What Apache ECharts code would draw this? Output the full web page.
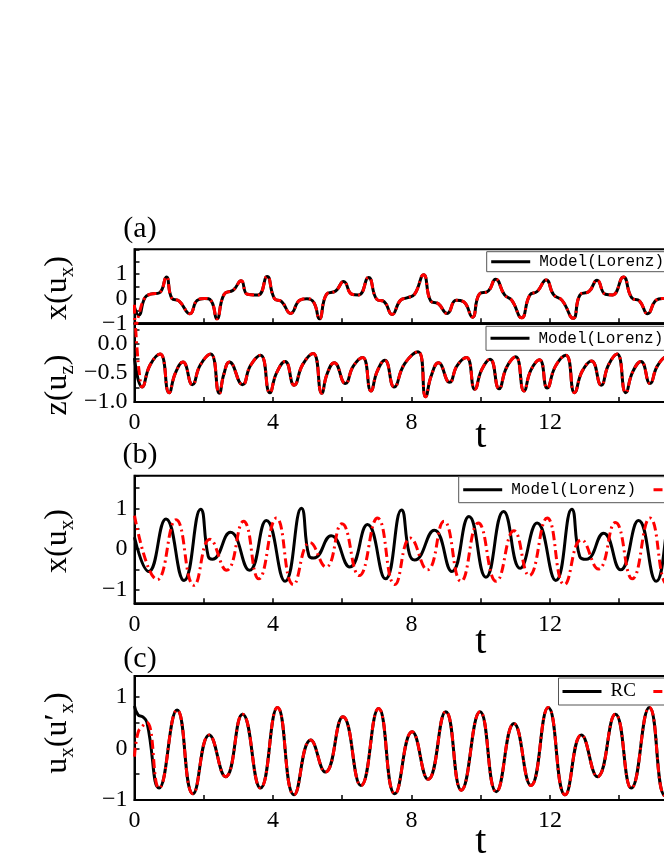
<!DOCTYPE html>
<html>
<head>
<meta charset="utf-8">
<script src="https://cdn.jsdelivr.net/npm/echarts@6/dist/echarts.min.js"></script>
<style>
  html, body { margin: 0; padding: 0; background: #fff; }
  #chart { width: 664px; height: 860px; }
</style>
</head>
<body>
<div id="chart"></div>
<script>
// all series are [t, value] pairs

// (a) upper panel: x(u_x)
const modelXA = [[0, -0.35], [0.12, -0.67], [0.30, 0.04], [0.46, 0.18], [0.72, 0.24], [0.92, 0.88], [1.08, 0.01], [1.29, -0.10], [1.60, -0.61], [1.81, -0.07], [2.02, 0.01], [2.22, -0.10], [2.38, -0.82], [2.59, 0.18], [2.85, 0.34], [3.08, 0.72], [3.26, 0.18], [3.57, 0.15], [3.83, 0.90], [4.04, 0.01], [4.25, -0.12], [4.51, -0.60], [4.77, -0.07], [4.98, 0.00], [5.18, -0.16], [5.34, -0.82], [5.55, 0.18], [5.81, 0.31], [6.04, 0.69], [6.28, 0.18], [6.48, 0.15], [6.76, 0.86], [7.00, -0.03], [7.21, -0.12], [7.44, -0.64], [7.68, -0.07], [7.89, 0.04], [8.09, 0.18], [8.35, 0.97], [8.56, -0.10], [8.77, -0.20], [9.03, -0.60], [9.29, -0.07], [9.50, -0.12], [9.76, -0.75], [9.96, 0.18], [10.22, 0.31], [10.43, 0.79], [10.69, 0.15], [10.90, -0.07], [11.18, -0.78], [11.42, 0.15], [11.63, 0.29], [11.89, 0.76], [12.11, 0.15], [12.35, -0.07], [12.67, -0.80], [12.87, 0.15], [13.13, 0.29], [13.36, 0.75], [13.60, 0.18], [13.81, 0.15], [14.12, 0.88], [14.36, 0.04], [14.59, -0.10], [14.82, -0.61], [15.06, -0.07], [15.25, 0.01], [15.45, -0.12], [15.62, -0.80], [15.85, 0.15], [16.10, 0.30], [16.35, 0.80], [16.60, 0.10]];
// RC follows the model after a short start transient
const rcXA = [[0, -0.25], [0.04, -1.15]].concat(modelXA.slice(1));

// (a) lower panel: z(u_z)
const modelZA = [[0, -0.24], [0.22, -0.74], [0.45, -0.36], [0.74, -0.17], [1.00, -0.84], [1.18, -0.50], [1.40, -0.31], [1.67, -0.70], [1.90, -0.36], [2.20, -0.17], [2.45, -0.85], [2.58, -0.52], [2.74, -0.31], [3.12, -0.70], [3.35, -0.37], [3.64, -0.19], [3.91, -0.84], [4.10, -0.50], [4.35, -0.30], [4.61, -0.71], [4.86, -0.35], [5.16, -0.16], [5.41, -0.85], [5.56, -0.52], [5.77, -0.32], [6.09, -0.68], [6.32, -0.38], [6.59, -0.23], [6.83, -0.81], [7.01, -0.47], [7.23, -0.28], [7.50, -0.74], [7.80, -0.34], [8.19, -0.13], [8.41, -0.91], [8.57, -0.55], [8.78, -0.32], [9.10, -0.66], [9.32, -0.37], [9.59, -0.23], [9.83, -0.78], [10.03, -0.44], [10.27, -0.26], [10.53, -0.77], [10.75, -0.40], [11.01, -0.22], [11.25, -0.81], [11.45, -0.45], [11.70, -0.27], [11.92, -0.76], [12.16, -0.38], [12.46, -0.19], [12.71, -0.84], [12.93, -0.47], [13.20, -0.29], [13.48, -0.71], [13.69, -0.36], [13.94, -0.17], [14.19, -0.84], [14.39, -0.48], [14.63, -0.30], [14.89, -0.68], [15.10, -0.38], [15.35, -0.22], [15.58, -0.82], [15.80, -0.45], [16.05, -0.28]];
const rcZA = [[0, 0.6], [0.07, -0.05], [0.15, -0.55]].concat(modelZA.slice(1));

// (b) x(u_x), model vs free-running RC
const modelXB = [[0, 0.29], [0.41, -0.55], [0.91, 0.74], [1.43, -0.77], [1.91, 0.98], [2.13, -0.18], [2.25, -0.25], [2.77, 0.41], [3.32, -0.52], [3.81, 0.70], [4.35, -0.79], [4.82, 1.00], [5.04, -0.17], [5.18, -0.22], [5.68, 0.33], [6.22, -0.44], [6.73, 0.60], [7.25, -0.73], [7.71, 0.96], [7.94, -0.12], [8.09, -0.27], [8.66, 0.46], [9.17, -0.55], [9.66, 0.80], [10.15, -0.69], [10.66, 0.92], [11.14, -0.47], [11.63, 0.64], [12.17, -0.77], [12.63, 0.98], [12.86, -0.18], [13.05, -0.25], [13.55, 0.39], [14.04, -0.51], [14.56, 0.70], [15.07, -0.79], [15.55, 0.92], [16.05, -0.60]];
const rcXB = [[0, 0.82], [0.66, -0.75], [1.20, 0.72], [1.72, -0.89], [2.18, 0.24], [2.66, -0.52], [3.15, 0.68], [3.59, -0.73], [4.10, 0.76], [4.59, -0.87], [5.07, 0.16], [5.53, -0.44], [5.99, 0.62], [6.49, -0.65], [7.02, 0.76], [7.52, -0.87], [7.97, 0.27], [8.46, -0.51], [8.94, 0.68], [9.43, -0.79], [9.93, 0.64], [10.45, -0.79], [10.96, 0.45], [11.40, -0.65], [11.92, 0.76], [12.42, -0.87], [12.91, 0.23], [13.40, -0.49], [13.89, 0.65], [14.38, -0.73], [14.89, 0.76], [15.40, -0.87], [15.90, 0.20]];

// (c) u_x (u'_x)
const rcUC = [[0, 0.82], [0.10, 0.65], [0.24, 0.61], [0.36, 0.50], [0.71, -0.77], [1.23, 0.74], [1.69, -0.88], [2.16, 0.26], [2.63, -0.55], [3.12, 0.66], [3.64, -0.77], [4.13, 0.79], [4.61, -0.90], [5.09, 0.16], [5.51, -0.46], [6.02, 0.61], [6.54, -0.72], [7.05, 0.77], [7.52, -0.88], [8.02, 0.32], [8.48, -0.60], [8.99, 0.71], [9.44, -0.81], [9.98, 0.71], [10.45, -0.84], [10.96, 0.48], [11.45, -0.72], [11.95, 0.79], [12.44, -0.90], [12.91, 0.26], [13.37, -0.55], [13.89, 0.66], [14.35, -0.77], [14.87, 0.79], [15.33, -0.92], [15.85, 0.30]];
const refUC = [[0, -0.16], [0.10, 0.30], [0.22, 0.42]].concat(rcUC.slice(3));

const xTicks = [0, 4, 8, 12, 16];
const yLabelsA1 = {'1': '1', '0': '0', '-1': '\u22121'};
const yLabelsA2 = {'0': '0.0', '-0.5': '\u22120.5', '-1': '\u22121.0'};
const yLabelsB = {'1': '1', '0': '0', '-1': '\u22121'};
const yLabelsC = {'1': '1', '0': '0', '-1': '\u22121'};

const SERIF = '"Liberation Serif", "DejaVu Serif", serif';
const MONO = '"Liberation Mono", "DejaVu Sans Mono", monospace';

let myChart = echarts.init(document.getElementById('chart'))

function grid (top, height) {
  return { left: 134.5, top: top, width: 692.4, height: height, show: true,
    outerBoundsMode: 'none', containLabel: false,
    borderColor: '#000', borderWidth: 2, backgroundColor: 'transparent' }
}

function xAxis (gi, labels, nameGap) {
  return {
    type: 'value', gridIndex: gi, min: 0, max: 20, interval: 2,
    name: labels ? 't' : '', nameLocation: 'middle', nameGap: nameGap, nameMoveOverlap: false,
    nameTextStyle: { fontFamily: SERIF, fontSize: 40, color: '#000' },
    axisLine: { show: true, onZero: false, lineStyle: { color: '#000', width: 2 } },
    axisTick: { show: true, inside: true, length: 5, lineStyle: { color: '#000', width: 1.5 } },
    axisLabel: { show: labels, margin: 9, fontFamily: SERIF, fontSize: 24, color: '#000',
      formatter: (v) => xTicks.indexOf(v) >= 0 ? String(v) : '' },
    splitLine: { show: false }
  }
}

function yAxis (gi, min, max, interval, labels) {
  let ax = {
    type: 'value', gridIndex: gi, min: min, max: max,
    axisLine: { show: true, onZero: false, lineStyle: { color: '#000', width: 2 } },
    axisTick: { show: true, inside: true, length: 5, lineStyle: { color: '#000', width: 1.5 } },
    axisLabel: { margin: 7, fontFamily: SERIF, fontSize: 24, color: '#000',
      formatter: (v) => {
        let key = String(Math.round(v * 100) / 100)
        return labels[key] !== undefined ? labels[key] : ''
      } },
    splitLine: { show: false }
  }
  if (interval) ax.interval = interval
  return ax
}

function line (name, gi, data, red) {
  return {
    name: name, type: 'line', xAxisIndex: gi, yAxisIndex: gi, data: data,
    smooth: 0.5, symbol: 'none', showSymbol: false, clip: true,
    z: red ? 3 : 2,
    lineStyle: red
      ? { color: '#ff0000', width: 3, type: [9, 4, 2, 4] }
      : { color: '#000', width: 3 },
    itemStyle: { color: red ? '#ff0000' : '#000' }
  }
}

function legend (left, top, names, font, fontSize, pad) {
  return {
    left: left, top: top, width: 420, orient: 'horizontal', data: names,
    padding: pad, itemWidth: 39, itemHeight: 14, itemGap: 16,
    backgroundColor: '#fff', borderColor: '#555', borderWidth: 1,
    lineStyle: { width: 3 },
    itemStyle: { color: 'rgba(0,0,0,0)', borderColor: 'rgba(0,0,0,0)', borderWidth: 0 },
    selectedMode: false,
    textStyle: { fontFamily: font, fontSize: fontSize, color: '#000', padding: [0, 0, 0, 4] }
  }
}

const subRich = {
  s: { fontFamily: SERIF, fontSize: 21, lineHeight: 40, verticalAlign: 'bottom', fill: '#000' }
}

function yTitle (x, y, text) {
  return {
    type: 'text', x: x, y: y, rotation: Math.PI / 2,
    style: { text: text, fontFamily: SERIF, fontSize: 32, lineHeight: 40, fill: '#000',
      align: 'center', verticalAlign: 'middle', rich: subRich }
  }
}

function panelTag (x, y, text) {
  return {
    type: 'text', x: x, y: y,
    style: { text: text, fontFamily: SERIF, fontSize: 30, fill: '#000', align: 'center', verticalAlign: 'middle' }
  }
}

myChart.setOption({
  animation: false,
  backgroundColor: '#fff',
  grid: [grid(249.3, 74), grid(323.3, 78.7), grid(475.7, 127.6), grid(676, 124)],
  xAxis: [xAxis(0, false, 0), xAxis(1, true, 14), xAxis(2, true, 19), xAxis(3, true, 22)],
  yAxis: [
    yAxis(0, -1, 2, 0.5, yLabelsA1),
    yAxis(1, -1, 0.36, 0.25, yLabelsA2),
    yAxis(2, -1.33, 1.8, null, yLabelsB),
    yAxis(3, -1, 1.4, 0.5, yLabelsC)
  ],
  legend: [
    legend(486.7, 251.7, ['Model(Lorenz)', 'RC(Lorenz)'], MONO, 16, [2, 6, 2, 3]),
    legend(486, 326.3, ['Model(Lorenz)', 'RC(Lorenz)'], MONO, 16, [4, 6, 4, 3]),
    legend(458.7, 476.7, ['Model(Lorenz)', 'RC(Lorenz)'], MONO, 16, [5, 6, 5, 3]),
    legend(558.5, 678, ['RC', 'Lorenz'], SERIF, 19, [4, 6, 4, 2.5])
  ],
  graphic: [
    panelTag(140, 229, '(a)'),
    panelTag(140, 455, '(b)'),
    panelTag(140, 659, '(c)'),
    yTitle(58, 288, 'x(u{s|x})'),
    yTitle(58, 385, 'z(u{s|z})'),
    yTitle(58, 541, 'x(u{s|x})'),
    yTitle(58, 733, 'u{s|x}(u\u2032{s|x})')
  ],
  series: [
    line('Model(Lorenz)', 0, modelXA, false),
    line('RC(Lorenz)', 0, rcXA, true),
    line('Model(Lorenz)', 1, modelZA, false),
    line('RC(Lorenz)', 1, rcZA, true),
    line('Model(Lorenz)', 2, modelXB, false),
    line('RC(Lorenz)', 2, rcXB, true),
    line('RC', 3, rcUC, false),
    line('Lorenz', 3, refUC, true)
  ]
})
</script>
</body>
</html>
